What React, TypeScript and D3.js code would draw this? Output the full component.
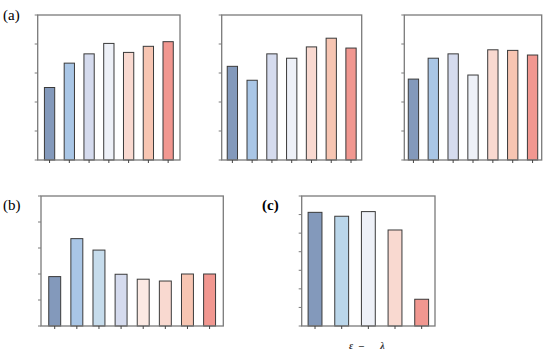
import React from "react";
import * as d3 from "d3";

// ---- data ----
const catsA = ["1", "2", "3", "4", "5", "6", "7"];
const valsA1 = [2.5, 3.34, 3.66, 4.02, 3.71, 3.92, 4.08];
const valsA2 = [3.23, 2.75, 3.66, 3.51, 3.9, 4.2, 3.86];
const valsA3 = [2.79, 3.51, 3.66, 2.93, 3.8, 3.78, 3.62];
const colorsA = ["#8399bb", "#a9c6e6", "#d5dbee", "#eef1f8", "#f9d9d0", "#f7c5b2", "#f19790"];

const catsB = ["1", "2", "3", "4", "5", "6", "7", "8"];
const valsB = [1.9, 3.36, 2.92, 1.99, 1.8, 1.73, 2.0, 2.0];
const colorsB = ["#8399bb", "#a9c6e6", "#c6dcec", "#d5dbee", "#fbe9e3", "#f9d9d0", "#f7c5b2", "#f19790"];

const catsC = ["1", "2", "3", "4", "5"];
const valsC = [6.12, 5.91, 6.16, 5.17, 1.44];
const colorsC = ["#8399bb", "#bad6ea", "#eef1f8", "#f9d9d0", "#f19790"];

const labelsC = [
  { t: "ε", x: 351 },
  { t: "–", x: 361.5 },
  { t: "λ", x: 382.5 },
];

type PanelProps = {
  x0: number; x1: number; y0: number; y1: number;
  cats: string[]; vals: number[]; colors: string[];
  yMax: number; pad: number; bw: number;
};

function Panel({ x0, x1, y0, y1, cats, vals, colors, yMax, pad, bw }: PanelProps) {
  const x = d3.scalePoint<string>().domain(cats).range([x0, x1]).padding(pad);
  const y = d3.scaleLinear().domain([0, yMax]).range([y1, y0]);
  const w = x.step() * bw;
  const yt = d3.range(0, yMax + 1);
  const spine = "#7a7a7a";
  return (
    <g>
      {cats.map((c, i) => (
        <rect
          key={c}
          x={(x(c) as number) - w / 2}
          y={y(vals[i])}
          width={w}
          height={y(0) - y(vals[i])}
          fill={colors[i]}
          stroke="#3a3a3a"
          strokeWidth={1}
        />
      ))}
      <rect x={x0} y={y0} width={x1 - x0} height={y1 - y0} fill="none" stroke={spine} strokeWidth={1.3} />
      {yt.map((t) => (
        <line key={t} x1={x0 - 3} x2={x0} y1={y(t)} y2={y(t)} stroke={spine} strokeWidth={1} />
      ))}
      {cats.map((c) => (
        <line key={c} x1={x(c)} x2={x(c)} y1={y1} y2={y1 + 3} stroke="#444" strokeWidth={1} />
      ))}
    </g>
  );
}

const serif = { fontFamily: "'Liberation Serif', 'DejaVu Serif', serif" };

export default function App() {
  return (
    <svg
      width={550}
      height={353}
      style={{ position: "absolute", left: 0, top: 0, background: "#fff" }}
    >
      <text x={3} y={20} fontSize={15} style={serif}>(a)</text>
      <text x={3} y={210} fontSize={15} style={serif}>(b)</text>
      <text x={262} y={210} fontSize={15} fontWeight="bold" style={serif}>(c)</text>
      <Panel x0={37.7} x1={180} y0={15} y1={160} cats={catsA} vals={valsA1} colors={colorsA} yMax={5} pad={0.6} bw={0.52} />
      <Panel x0={221.7} x1={361.7} y0={15} y1={160} cats={catsA} vals={valsA2} colors={colorsA} yMax={5} pad={0.54} bw={0.52} />
      <Panel x0={404.3} x1={541.7} y0={15} y1={160} cats={catsA} vals={valsA3} colors={colorsA} yMax={5} pad={0.46} bw={0.52} />
      <Panel x0={41} x1={223.3} y0={196} y1={326} cats={catsB} vals={valsB} colors={colorsB} yMax={5} pad={0.62} bw={0.54} />
      <Panel x0={301.7} x1={435} y0={196} y1={326} cats={catsC} vals={valsC} colors={colorsC} yMax={7} pad={0.5} bw={0.52} />
      {labelsC.map((l) => (
        <text key={l.t} x={l.x} y={349} fontSize={10} fontStyle="italic" fontWeight="bold" textAnchor="middle" fill="#333" style={serif}>
          {l.t}
        </text>
      ))}
    </svg>
  );
}
